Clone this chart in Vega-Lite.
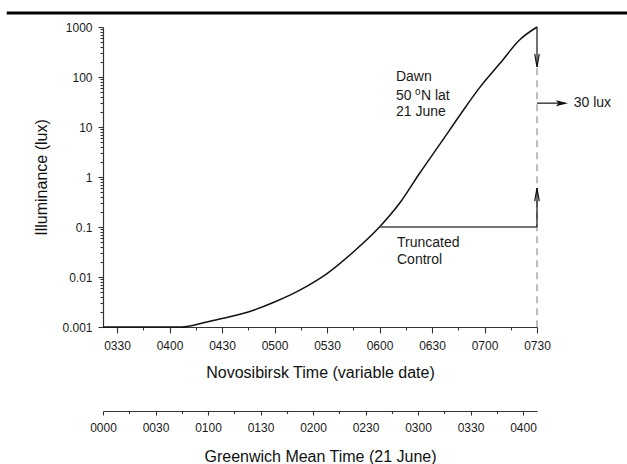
{
  "$schema": "https://vega.github.io/schema/vega-lite/v6.json",
  "width": 434,
  "height": 300,
  "autosize": {"type": "none"},
  "padding": {"left": 103, "top": 27, "right": 90, "bottom": 137},
  "background": "white",
  "config": {
    "view": {"stroke": null},
    "font": "Liberation Sans",
    "axis": {
      "labelFont": "Liberation Sans",
      "titleFont": "Liberation Sans",
      "labelFontSize": 12,
      "titleFontSize": 16,
      "titleFontWeight": "normal",
      "labelColor": "#1a1a1a",
      "titleColor": "#111111",
      "domainColor": "#333333",
      "tickColor": "#333333",
      "domainWidth": 1.2,
      "tickWidth": 1.1,
      "grid": false,
      "labelOverlap": false,
      "labelBound": false,
      "labelFlush": false
    },
    "text": {"font": "Liberation Sans", "fontSize": 14, "color": "#1a1a1a"}
  },
  "resolve": {"scale": {"x": "independent"}, "axis": {"x": "independent"}},
  "layer": [
    {
      "encoding": {
        "x": {
          "field": "nov", "type": "quantitative",
          "scale": {"domain": [202, 450], "nice": false, "zero": false},
          "axis": {
            "title": "Novosibirsk Time (variable date)",
            "values": [210, 225, 240, 255, 270, 285, 300, 315, 330, 345, 360, 375, 390, 405, 420, 435, 450],
            "labelExpr": "datum.value % 30 == 0 ? ((datum.value < 600 ? '0' : '') + floor(datum.value / 60) + (datum.value % 60 < 10 ? '0' : '') + (datum.value % 60)) : ''",
            "tickSize": {"condition": {"test": "datum.value % 30 == 0", "value": 6}, "value": 3},
            "labelPadding": 7,
            "titlePadding": 13
          }
        },
        "y": {
          "field": "lux", "type": "quantitative",
          "scale": {"type": "log", "domain": [0.001, 1000], "nice": false},
          "axis": {
            "title": "Illuminance (lux)",
            "values": [0.001, 0.002, 0.003, 0.004, 0.005, 0.006, 0.007, 0.008, 0.009,
                       0.01, 0.02, 0.03, 0.04, 0.05, 0.06, 0.07, 0.08, 0.09,
                       0.1, 0.2, 0.3, 0.4, 0.5, 0.6, 0.7, 0.8, 0.9,
                       1, 2, 3, 4, 5, 6, 7, 8, 9,
                       10, 20, 30, 40, 50, 60, 70, 80, 90,
                       100, 200, 300, 400, 500, 600, 700, 800, 900, 1000],
            "labelExpr": "indexof([0.001, 0.01, 0.1, 1, 10, 100, 1000], datum.value) >= 0 ? format(datum.value, '~g') : ''",
            "tickSize": {"condition": {"test": "indexof([0.001, 0.01, 0.1, 1, 10, 100, 1000], datum.value) >= 0", "value": 5}, "value": 3},
            "labelPadding": 6,
            "titlePadding": 12
          }
        }
      },
      "layer": [
        {
          "data": {"values": [
            {"nov": 202, "lux": 0.001}, {"nov": 247, "lux": 0.001}, {"nov": 260, "lux": 0.00123},
            {"nov": 270, "lux": 0.00148}, {"nov": 285, "lux": 0.002}, {"nov": 300, "lux": 0.00316},
            {"nov": 315, "lux": 0.0056}, {"nov": 330, "lux": 0.0117}, {"nov": 345, "lux": 0.0316},
            {"nov": 360, "lux": 0.1}, {"nov": 372, "lux": 0.316}, {"nov": 383, "lux": 1.2},
            {"nov": 395, "lux": 4.8}, {"nov": 406, "lux": 17.4}, {"nov": 417, "lux": 60},
            {"nov": 429, "lux": 190}, {"nov": 440, "lux": 550}, {"nov": 450, "lux": 1000}
          ]},
          "mark": {"type": "line", "color": "#111111", "strokeWidth": 1.5, "interpolate": "monotone"}
        },
        {
          "data": {"values": [{"nov": 147, "nov2": 502, "lux": 1905}]},
          "mark": {"type": "rule", "color": "#000000", "strokeWidth": 3.2},
          "encoding": {"x2": {"field": "nov2"}}
        },
        {
          "data": {"values": [{"nov": 450, "lux": 150, "lux2": 0.001}]},
          "mark": {"type": "rule", "color": "#9a9a9a", "strokeWidth": 1.3, "strokeDash": [7, 5]},
          "encoding": {"y2": {"field": "lux2"}}
        },
        {
          "data": {"values": [{"nov": 360, "nov2": 450, "lux": 0.1}]},
          "mark": {"type": "rule", "color": "#444444", "strokeWidth": 1.6},
          "encoding": {"x2": {"field": "nov2"}}
        },
        {
          "data": {"values": [{"nov": 450, "lux": 1000, "lux2": 160}, {"nov": 450, "lux": 0.1, "lux2": 0.6}]},
          "mark": {"type": "rule", "color": "#111111", "strokeWidth": 1.2},
          "encoding": {"y2": {"field": "lux2"}}
        },
        {
          "data": {"values": [{"nov": 450, "nov2": 466, "lux": 30}]},
          "mark": {"type": "rule", "color": "#111111", "strokeWidth": 1.2},
          "encoding": {"x2": {"field": "nov2"}}
        },
        {
          "data": {"values": [{"nov": 450, "lux": 160}]},
          "mark": {"type": "point", "shape": "M-0.35,-2L0,0L0.35,-2", "size": 169, "filled": false, "stroke": "#111111", "strokeWidth": 1.2, "opacity": 1}
        },
        {
          "data": {"values": [{"nov": 450, "lux": 0.6}]},
          "mark": {"type": "point", "shape": "M-0.35,2L0,0L0.35,2", "size": 169, "filled": false, "stroke": "#111111", "strokeWidth": 1.2, "opacity": 1}
        },
        {
          "data": {"values": [{"nov": 467.7, "lux": 30}]},
          "mark": {"type": "point", "shape": "M-2,-0.5L0,0L-2,0.5L-1.6,0Z", "size": 144, "filled": true, "fill": "#111111", "opacity": 1}
        },
        {
          "data": {"values": [
            {"nov": 369.4, "lux": 100, "t": "Dawn"},
            {"nov": 369.4, "lux": 20, "t": "21 June"},
            {"nov": 370, "lux": 0.048, "t": "Truncated"},
            {"nov": 370, "lux": 0.022, "t": "Control"},
            {"nov": 471, "lux": 30, "t": "30 lux"}
          ]},
          "mark": {"type": "text", "align": "left", "baseline": "middle"},
          "encoding": {"text": {"field": "t"}}
        },
        {
          "data": {"values": [{"nov": 369.4, "lux": 41.7, "t": "50"}]},
          "layer": [
            {"mark": {"type": "text", "align": "left", "baseline": "middle"}, "encoding": {"text": {"field": "t"}}},
            {"mark": {"type": "text", "align": "left", "baseline": "middle", "text": "o", "fontSize": 10, "dx": 19, "dy": -4}},
            {"mark": {"type": "text", "align": "left", "baseline": "middle", "text": "N lat", "dx": 25}}
          ]
        }
      ]
    },
    {
      "data": {"values": [{"gmt": 0}]},
      "mark": {"type": "point", "opacity": 0},
      "encoding": {
        "x": {
          "field": "gmt", "type": "quantitative",
          "scale": {"domain": [0, 248], "nice": false, "zero": false},
          "axis": {
            "orient": "bottom",
            "offset": 84,
            "title": "Greenwich Mean Time (21 June)",
            "values": [0, 15, 30, 45, 60, 75, 90, 105, 120, 135, 150, 165, 180, 195, 210, 225, 240],
            "labelExpr": "datum.value % 30 == 0 ? ((datum.value < 600 ? '0' : '') + floor(datum.value / 60) + (datum.value % 60 < 10 ? '0' : '') + (datum.value % 60)) : ''",
            "tickSize": {"condition": {"test": "datum.value % 30 == 0", "value": 4}, "value": 2.5},
            "labelPadding": 7,
            "titlePadding": 15
          }
        }
      }
    }
  ]
}
